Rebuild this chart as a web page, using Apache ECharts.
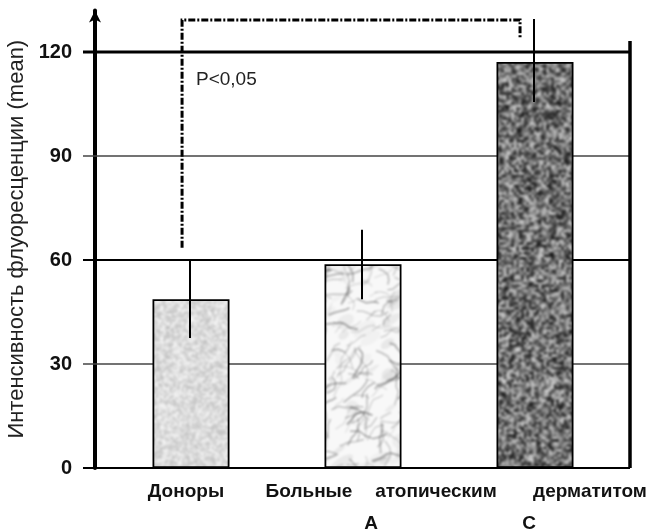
<!DOCTYPE html>
<html>
<head>
<meta charset="utf-8">
<script src="https://cdn.jsdelivr.net/npm/echarts@6/dist/echarts.min.js"></script>
<style>
html,body{margin:0;padding:0;background:#fff;}
#chart{width:651px;height:529px;}
</style>
</head>
<body>
<div id="chart"></div>
<script>
// ---- data ----
var categories = ['Доноры', 'Больные атопическим дерматитом А', 'Больные атопическим дерматитом С'];
var means = [48.7, 58.8, 117.1];
var errLow = [37.5, 48.7, 105.6];
var errHigh = [60.0, 68.7, 129.5];
var yTicks = [0, 30, 60, 90, 120];
var xLabelRow1 = ['Доноры', 'Больные', 'атопическим', 'дерматитом'];
var xLabelRow2 = ['А', 'С'];
var yAxisTitle = 'Интенсивность флуоресценции (mean)';
var pText = 'P<0,05';
var bracketFrom = 0, bracketTo = 2;          // category indices
var bracketLeftBottom = 63.5, bracketTop = 129.2, bracketRightBottom = 123.7;
var rightAxisTop = 123.2;

// ---- textures ----
function rng(seed){return function(){seed|=0;seed=seed+0x6D2B79F5|0;var t=Math.imul(seed^seed>>>15,1|seed);t=t+Math.imul(t^t>>>7,61|t)^t;return((t^t>>>14)>>>0)/4294967296;};}
function speckle(w,h,lo,hi,scale,seed,blur){
  var sw=Math.ceil(w/scale),sh=Math.ceil(h/scale);
  var c=document.createElement('canvas');c.width=sw;c.height=sh;var ctx=c.getContext('2d');
  var img=ctx.createImageData(sw,sh);var r=rng(seed);
  for(var i=0;i<sw*sh;i++){var v=Math.round(lo+(hi-lo)*r());img.data[i*4]=v;img.data[i*4+1]=v;img.data[i*4+2]=v;img.data[i*4+3]=255;}
  ctx.putImageData(img,0,0);
  var c2=document.createElement('canvas');c2.width=w;c2.height=h;var x2=c2.getContext('2d');
  x2.imageSmoothingEnabled=true;x2.filter='blur('+blur+'px)';x2.drawImage(c,0,0,w,h);
  return c2;
}
function marble(w,h,seed){
  var c=document.createElement('canvas');c.width=w;c.height=h;var ctx=c.getContext('2d');
  ctx.fillStyle='#f8f8f8';ctx.fillRect(0,0,w,h);var r=rng(seed);
  for(var j=0;j<700;j++){
    ctx.fillStyle='rgba(140,140,140,'+(0.05+0.1*r())+')';
    ctx.beginPath();ctx.ellipse(r()*w,r()*h,4+10*r(),2+5*r(),-0.6,0,Math.PI*2);ctx.fill();
  }
  for(var i=0;i<2200;i++){
    var x=r()*w,y=r()*h;ctx.strokeStyle='rgba(70,70,70,'+(0.12+0.4*r())+')';ctx.lineWidth=0.6+1.3*r();
    ctx.beginPath();ctx.moveTo(x,y);
    var ang=-0.6+(r()-0.5)*1.6;
    var n=2+Math.floor(r()*4);
    for(var k=0;k<n;k++){ang+=(r()-0.5)*1.4;var L=3+7*r();x+=Math.cos(ang)*L;y+=Math.sin(ang)*L;ctx.lineTo(x,y);}ctx.stroke();
  }
  var c2=document.createElement('canvas');c2.width=w;c2.height=h;var x2=c2.getContext('2d');
  x2.filter='blur(1px)';x2.drawImage(c,0,0);
  return c2;
}
var texDonor = speckle(651,529,190,250,2,7,1.0);
var texMid = marble(651,529,11);
var texRight = speckle(651,529,15,215,2.5,3,0.9);
var textures = [texDonor, texMid, texRight];

var chart = echarts.init(document.getElementById('chart'), null, {renderer:'canvas'});

var barData = means.map(function(v,i){
  return {value:v,itemStyle:{color:{image:textures[i],repeat:'repeat'}}};
});
var errData = means.map(function(v,i){return [i, errLow[i], errHigh[i]];});

var FONT = '"Liberation Sans", Arial, sans-serif';
var graphics = [];
var row1X = [186, 309, 436, 590];
xLabelRow1.forEach(function(t,i){
  graphics.push({type:'text',x:row1X[i],y:482,style:{text:t,font:'bold 19px '+FONT,fill:'#111',align:'center'}});
});
var row2X = [371, 529];
xLabelRow2.forEach(function(t,i){
  graphics.push({type:'text',x:row2X[i],y:514,style:{text:t,font:'bold 19px '+FONT,fill:'#111',align:'center'}});
});
graphics.push({type:'text',x:196,y:70,style:{text:pText,font:'19px '+FONT,fill:'#222'}});

var option = {
  animation:false,
  backgroundColor:'#fff',
  grid:[
    {left:95,right:21,top:10.4,bottom:61,outerBoundsMode:'none',containLabel:false},
    {left:105,right:30,top:10.4,bottom:61,outerBoundsMode:'none',containLabel:false}
  ],
  xAxis:[
    {type:'category',gridIndex:0,data:categories,axisLine:{show:false},axisTick:{show:false},axisLabel:{show:false},splitLine:{show:false}},
    {type:'category',gridIndex:1,data:categories,show:false}
  ],
  yAxis:[
    {type:'value',gridIndex:0,min:0,max:132,interval:30,
    name:yAxisTitle,nameLocation:'middle',nameGap:67,nameRotate:90,
    nameTextStyle:{fontSize:22,color:'#222',fontFamily:FONT},
    axisLine:{show:true,lineStyle:{color:'#000',width:4},symbol:['none','arrow'],symbolSize:[9,12]},
    axisTick:{show:false},
    splitLine:{show:false},
    axisLabel:{margin:23,fontSize:20,fontWeight:'bold',color:'#111',fontFamily:FONT,
      formatter:function(v){return yTicks.indexOf(v)>=0?String(v):'';}}
    },
    {type:'value',gridIndex:1,min:0,max:132,interval:30,show:false,splitLine:{show:false}}
  ],
  graphic:graphics,
  series:[
    {type:'custom',z:1,silent:true,xAxisIndex:0,yAxisIndex:0,data:yTicks.map(function(v){return [0,v];}),
      renderItem:function(params,api){
        var cs=params.coordSys;var v=api.value(1);var p=api.coord([0,v]);
        var w=(v===120)?3:(v===60||v===0)?2.2:1.6;var col=(v===90||v===30)?'#444':'#000';
        return {type:'line',shape:{x1:cs.x-12,y1:p[1],x2:cs.x+cs.width,y2:p[1]},style:{stroke:col,lineWidth:w}};
      }},
    {type:'custom',z:1,silent:true,xAxisIndex:0,yAxisIndex:0,data:[[2,rightAxisTop]],
      renderItem:function(params,api){
        var cs=params.coordSys;var top=api.coord([2,api.value(1)]);var bot=api.coord([2,0]);
        return {type:'line',shape:{x1:cs.x+cs.width,y1:top[1],x2:cs.x+cs.width,y2:bot[1]},style:{stroke:'#000',lineWidth:3.5}};
      }},
    {type:'bar',z:2,xAxisIndex:1,yAxisIndex:1,data:barData,barWidth:77,itemStyle:{borderColor:'#000',borderWidth:1.8}},
    {type:'custom',z:3,silent:true,xAxisIndex:1,yAxisIndex:1,data:errData,
      renderItem:function(params,api){
        var lo=api.coord([api.value(0),api.value(1)]);var hi=api.coord([api.value(0),api.value(2)]);
        return {type:'line',shape:{x1:lo[0]-1,y1:lo[1],x2:hi[0]-1,y2:hi[1]},style:{stroke:'#000',lineWidth:2}};
      }},
    {type:'custom',z:3,silent:true,xAxisIndex:1,yAxisIndex:1,data:[[bracketFrom,bracketTo,bracketLeftBottom,bracketTop,bracketRightBottom]],
      renderItem:function(params,api){
        var bw=api.size([1,0])[0];
        var a=api.coord([api.value(0),api.value(2)]);var b=api.coord([api.value(0),api.value(3)]);
        var c=api.coord([api.value(1),api.value(3)]);var d=api.coord([api.value(1),api.value(4)]);
        var xl=a[0]-0.052*bw, xr=c[0]-0.087*bw;
        return {type:'polyline',shape:{points:[[xl,a[1]],[xl,b[1]],[xr,c[1]],[xr,d[1]]]},
          style:{stroke:'#000',lineWidth:3,fill:null,lineDash:[7,2,2,2]}};
      }}
  ]
};
chart.setOption(option);
</script>
</body>
</html>
